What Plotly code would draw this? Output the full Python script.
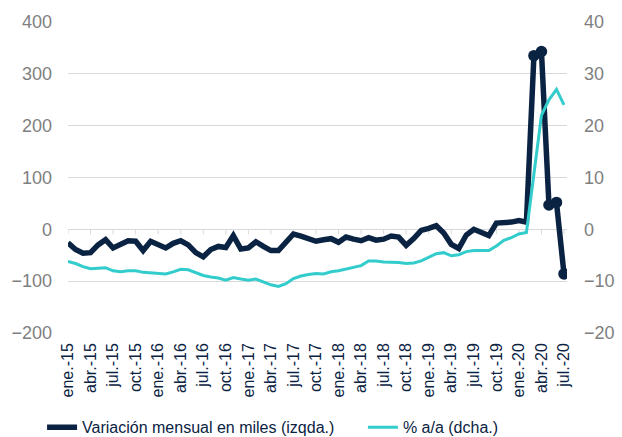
import plotly.graph_objects as go

months_es = ["ene.", "feb.", "mar.", "abr.", "may.", "jun.", "jul.", "ago.", "sep.", "oct.", "nov.", "dic."]
categories = [f"{months_es[m]}-{y:02d}" for y in range(15, 21) for m in range(12)][:67]

variacion_miles = [
    -26, -39, -46, -45, -30, -20, -36, -28, -22, -23,
    -41, -23, -31, -36, -27, -22, -30, -45, -53, -39,
    -33, -35, -12, -38, -36, -24, -33, -41, -41, -23,
    -9, -13, -17, -23, -20, -18, -25, -15, -19, -22,
    -16, -21, -19, -13, -15, -31, -18, -2, 2, 7,
    -7, -29, -37, -11, 0, -5, -12, 12, 12, 14,
    17, 14, 335, 343, 47, 52, -86,
]
pct_aa = [
    -6.2, -6.6, -7.2, -7.6, -7.5, -7.4, -8.0, -8.2, -8.0, -8.0,
    -8.3, -8.4, -8.5, -8.6, -8.2, -7.7, -7.8, -8.4, -8.9, -9.2,
    -9.4, -9.8, -9.3, -9.6, -9.8, -9.6, -10.1, -10.7, -11.0, -10.5,
    -9.5, -9.0, -8.7, -8.5, -8.6, -8.2, -8.0, -7.7, -7.4, -7.0,
    -6.1, -6.1, -6.3, -6.3, -6.4, -6.6, -6.5, -6.1, -5.4, -4.7,
    -4.5, -5.1, -4.9, -4.3, -4.1, -4.1, -4.1, -3.2, -2.1, -1.6,
    -0.9, -0.6, 11.0, 22.0, 25.0, 27.0, 24.0,
]
marker_months = categories[-5:]

tick_idx = list(range(0, 67, 3))
tick_labels = [categories[i] for i in tick_idx]

NAVY = "#0b2343"
CYAN = "#33cccc"
GRAY = "#7f7f7f"
GRID = "#d9d9d9"

x_idx = list(range(len(categories)))
mk_idx = [categories.index(c) for c in marker_months]

fig = go.Figure()
fig.add_trace(go.Scatter(
    x=x_idx, y=variacion_miles, mode="lines", name="Variación mensual en miles (izqda.)",
    line=dict(color=NAVY, width=5.5), xaxis="x", yaxis="y", legend="legend",
))
fig.add_trace(go.Scatter(
    x=x_idx, y=pct_aa, mode="lines", name="% a/a (dcha.)",
    line=dict(color=CYAN, width=3), xaxis="x", yaxis="y2", legend="legend2",
))
fig.add_trace(go.Scatter(
    x=mk_idx, y=[variacion_miles[i] for i in mk_idx], mode="markers", showlegend=False,
    marker=dict(color=NAVY, size=11.5), xaxis="x", yaxis="y",
))

# small tick marks hanging from the zero line (category axis crossing at 0)
for t in tick_idx:
    fig.add_shape(
        type="line", xref="x", yref="y", x0=t, x1=t,
        ysizemode="pixel", yanchor=0, y0=0, y1=-5,
        line=dict(color=GRID, width=1), layer="below",
    )

font_family = "Liberation Sans, Arial, sans-serif"
legend_common = dict(
    orientation="h", xanchor="left", y=-0.303, yanchor="middle",
    font=dict(size=16, color=NAVY), itemwidth=30, bgcolor="rgba(0,0,0,0)",
)

fig.update_layout(
    width=622, height=437,
    margin=dict(l=68, r=55, t=21.5, b=103.5, autoexpand=False),
    paper_bgcolor="white", plot_bgcolor="white",
    font=dict(family=font_family),
    showlegend=True,
    legend=dict(x=-0.052, **legend_common),
    legend2=dict(x=0.591, **legend_common),
    xaxis=dict(
        range=[0, 66.4], tickmode="array", tickvals=tick_idx, ticktext=tick_labels,
        tickangle=-90, tickfont=dict(size=16, color=NAVY), showgrid=False,
        zeroline=False, showline=False, ticks="", ticklabelstandoff=6, automargin=False,
    ),
    yaxis=dict(
        range=[-200, 400], tickvals=[-200, -100, 0, 100, 200, 300, 400],
        tickfont=dict(size=18, color=GRAY), showgrid=True, gridcolor=GRID, gridwidth=1,
        zeroline=True, zerolinecolor=GRID, zerolinewidth=1,
        showline=False, ticks="", ticklabelstandoff=15, automargin=False,
    ),
    yaxis2=dict(
        range=[-20, 40], tickvals=[-20, -10, 0, 10, 20, 30, 40], overlaying="y", side="right",
        tickfont=dict(size=18, color=GRAY), showgrid=False, zeroline=False,
        showline=False, ticks="", ticklabelstandoff=16, automargin=False,
    ),
)

fig.write_html(
    "out.html",
    config={"displayModeBar": False},
    post_script="document.body.style.margin='0';",
)
